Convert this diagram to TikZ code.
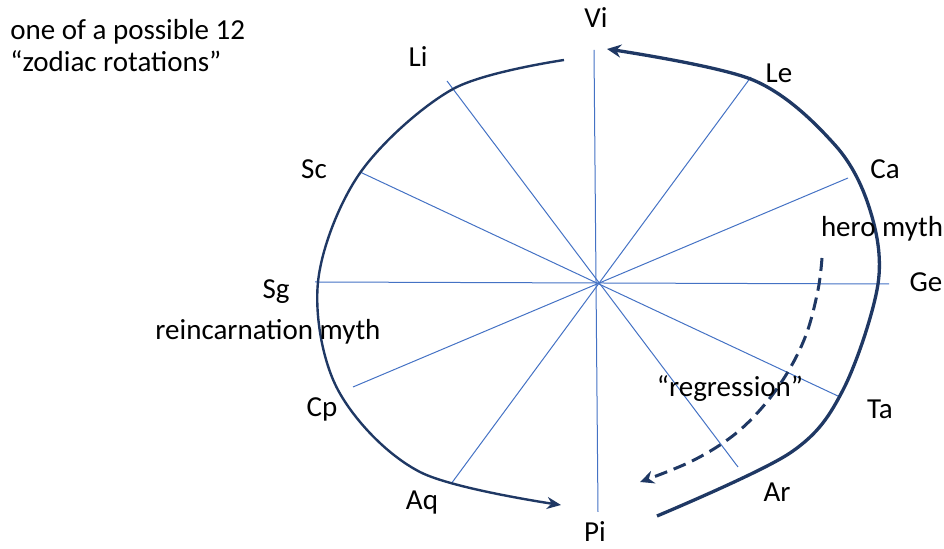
\documentclass[tikz,border=0pt]{standalone}
\usepackage{fontspec}
\setmainfont{Carlito}
\usetikzlibrary{arrows.meta}
\definecolor{spokeblue}{HTML}{4472C4}
\definecolor{navy}{HTML}{1F3864}

\begin{document}
\begin{tikzpicture}[x=0.5pt,y=-0.5pt,
  spoke/.style={spokeblue, line width=0.5pt},
  arc/.style={navy, line width=1.2pt},
  lbl/.style={anchor=base, inner sep=0pt, font=\fontsize{14.5}{17}\selectfont}]
\useasboundingbox (0,0) rectangle (944,549);

%%%%% Spokes
\coordinate (sVi) at (594,50); \coordinate (sPi) at (598,512);
\coordinate (sLe) at (751,77); \coordinate (sAq) at (451,484);
\coordinate (sCa) at (848,178); \coordinate (sCp) at (353,387);
\coordinate (sGe) at (889,284); \coordinate (sSg) at (315,282);
\coordinate (sTa) at (840,397); \coordinate (sSc) at (360,172);
\coordinate (sAr) at (738,467); \coordinate (sLi) at (447,81);

\draw[spoke] (sVi)--(sPi); \draw[spoke] (sLe)--(sAq); \draw[spoke] (sCa)--(sCp);
\draw[spoke] (sGe)--(sSg); \draw[spoke] (sTa)--(sSc); \draw[spoke] (sAr)--(sLi);

%%%%% Left arc (reincarnation)
\draw[arc, -{Stealth[length=7pt,width=6pt]}] plot[smooth, tension=0.55] coordinates {(564,60) (453,89) (360,173) (318,282) (338,390) (420,472) (561,505)};

%%%%% Right arc (hero)
\draw[arc, line width=1.65pt, -{Stealth[length=7pt,width=6.5pt]}] plot[smooth, tension=0.55] coordinates {(657,516) (790,453) (843,390) (878,284) (870,210) (835,145) (753,80) (607,49)};

%%%%% Regression
\draw[navy, line width=1.5pt, dash pattern=on 6.5pt off 3.5pt, -{Stealth[length=7pt,width=6.5pt]}] plot[smooth, tension=0.6] coordinates {(822,258) (818,290) (806,335) (786,375) (760,410) (730,438) (690,462) (640,482)};

%%%%% Labels
\node[lbl] (vi) at (596,28) {Vi}; \node[lbl] (pi) at (595,542) {Pi};
\node[lbl] (le) at (779,83) {Le}; \node[lbl] (li) at (418,67) {Li};
\node[lbl] (sc) at (314,179) {Sc}; \node[lbl] (ca) at (885,179) {Ca};
\node[lbl] (ge) at (926,292) {Ge}; \node[lbl] (sg) at (276,299) {Sg};
\node[lbl] (ta) at (880,419) {Ta}; \node[lbl] (cp) at (322,417) {Cp};
\node[lbl] (ar) at (777,502) {Ar}; \node[lbl] (aq) at (422,510) {Aq};

\node[lbl] (hero) at (882,237) {hero myth};
\node[lbl] (reinc) at (268,340) {reincarnation myth};
\node[lbl] (regr) at (730,397) {“regression”};

\node[lbl, anchor=base west] (note1) at (10,40) {one of a possible 12};
\node[lbl, anchor=base west] (note2) at (10,72) {“zodiac rotations”};

\end{tikzpicture}
\end{document}
